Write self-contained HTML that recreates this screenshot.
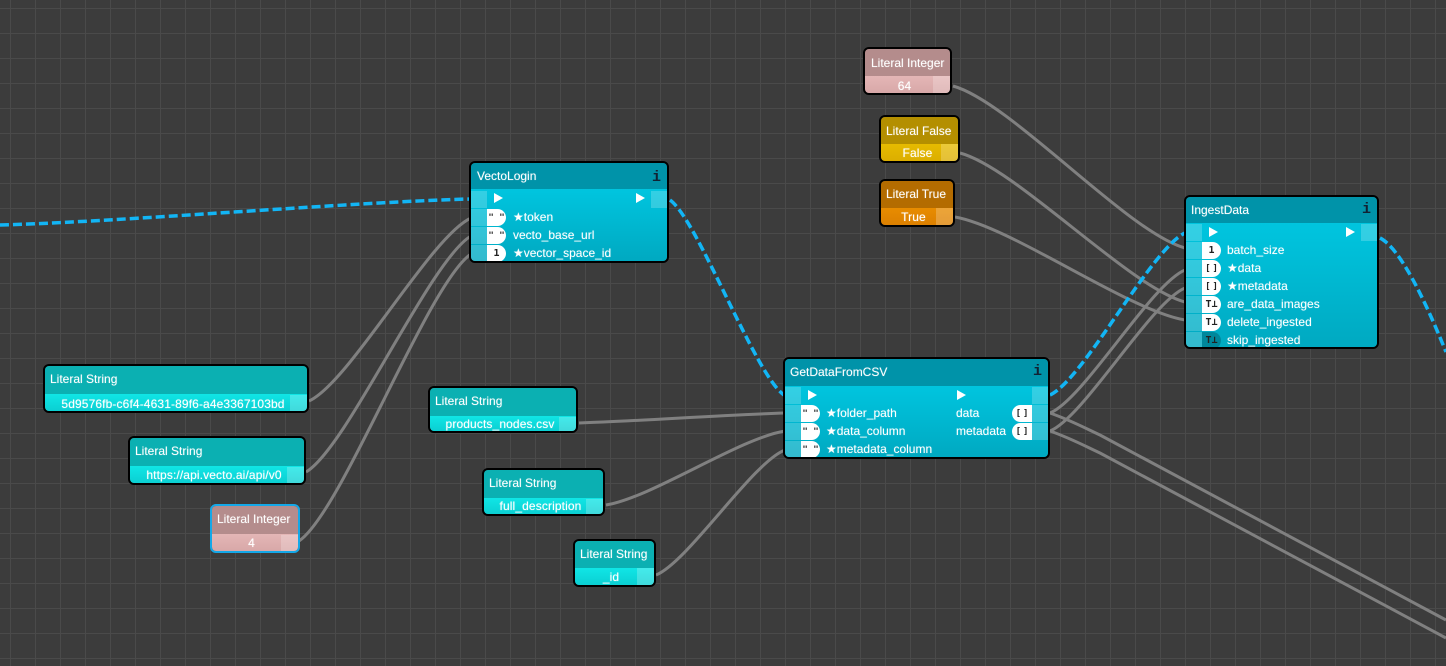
<!DOCTYPE html>
<html><head><meta charset="utf-8"><style>
html,body{margin:0;padding:0;width:1446px;height:666px;overflow:hidden}
body{position:relative;background-color:#3c3c3c;background-image:linear-gradient(#4a4a4a 1px,transparent 1px),linear-gradient(90deg,#4a4a4a 1px,transparent 1px);background-size:25px 25px;background-position:10px 8px;font:12px/18px "Liberation Sans",sans-serif;color:#fff}
svg{position:absolute;left:0;top:0}
.n{position:absolute;box-sizing:border-box;border:2px solid #000;border-radius:6px;overflow:hidden}
.n div{position:absolute}
.h{left:0;top:0;right:0;height:26px;background:#0093a9}
.f{background:linear-gradient(#00c5df,#00a9c1);left:0;right:0;top:26px;bottom:0}
.ti{left:5px;top:4px;white-space:nowrap;text-shadow:0 0 1px rgba(255,255,255,.45)}
.t{white-space:nowrap;text-shadow:0 0 1px rgba(255,255,255,.45)}
.c{width:16px;height:17px;background:rgba(255,255,255,.2)}
.p{width:19px;height:17px;background:#fff;border-radius:0 9px 9px 0;color:#222;font:bold 10px/18px "DejaVu Sans Mono",monospace;text-align:center;white-space:nowrap}
.o{width:20px;height:17px;background:#fff;border-radius:9px 0 0 9px;color:#222;font:bold 10px/18px "DejaVu Sans Mono",monospace;text-align:center;white-space:nowrap}
.q{font-size:9px;line-height:19px}
.b{letter-spacing:2px;text-indent:2px}
.a{width:0;height:0;border-left:9px solid #fff;border-top:5px solid transparent;border-bottom:5px solid transparent}
.i{right:6px;top:4px;font:bold 15px/18px "Liberation Mono",monospace;color:#123}
.lh{left:0;right:0;top:0;height:28px}
.lv{left:0;right:0;top:28px;bottom:0}
.lc{right:0;top:29px;bottom:0;width:17px;background:rgba(255,255,255,.22)}
.lt{top:27px;left:0;text-align:center;padding-left:10px;box-sizing:border-box;white-space:nowrap;letter-spacing:.12px;text-shadow:0 0 1px rgba(255,255,255,.6)}
.s .lh{background:#0bb0b2}.s .lv{background:linear-gradient(#10e6e6,#0bcfd2)}
.g .lh{background:#b48c8c}.g .lv{background:linear-gradient(#e4b6b6,#d8a8a8)}
.y .lh{background:#b48f00}.y .lv{background:linear-gradient(#e6bb00,#dcae00)}
.r .lh{background:#b46c00}.r .lv{background:linear-gradient(#e88c00,#dc8000)}
</style></head><body>
<svg width="1446" height="666" fill="none">
<g stroke="#808080" stroke-width="3">
<path d="M309,401 C349.5,382.7 430.5,236.3 471,218"/>
<path d="M306,472 C347,448 430,260 471,236"/>
<path d="M299,541 C342,512 428,283 471,254"/>
<path d="M579,423 C640,421 720,415 785,413"/>
<path d="M606,505 C651,498 740,438 785,431"/>
<path d="M656,575 C688,562 753,462 785,450"/>
<path d="M953,86 C1011,102 1127,232 1185,248"/>
<path d="M960,153 C1016,168 1129,287 1185,302"/>
<path d="M955,217 C1012,227 1127,310 1185,320"/>
<path d="M1050,413 C1084,399 1151,284 1185,270"/>
<path d="M1050,431 C1084,417 1151,302 1185,288"/>
<path d="M1050,413 C1070,420 1085,428 1100,435 L1446,620"/>
<path d="M1050,431 C1070,438 1085,446 1100,453 L1446,638"/>
</g>
<g stroke="#12b5f5" stroke-width="3.5" stroke-dasharray="9 4">
<path d="M0,225 C117,222 352,202 470,199"/>
<path d="M670,200 C698,220 755,375 784,395"/>
<path d="M1050,395 C1084,379 1151,249 1185,233"/>
<path d="M1380,238 C1400,248 1425,300 1446,352"/>
</g>
</svg>

<div class="n" style="left:469px;top:161px;width:200px;height:102px">
<div class="h"></div><div class="f"></div>
<div class="t ti" style="left:6px">VectoLogin</div><div class="i" style="top:6px">i</div>
<div class="c" style="left:0;top:28px"></div><div class="c" style="left:0;top:46px"></div><div class="c" style="left:0;top:64px"></div><div class="c" style="left:0;top:82px"></div>
<div class="c" style="right:0;top:28px"></div>
<div class="a" style="left:23px;top:30px"></div><div class="a" style="left:165px;top:30px"></div>
<div class="p q" style="left:16px;top:46px">" "</div><div class="p q" style="left:16px;top:64px">" "</div><div class="p" style="left:16px;top:82px">1</div>
<div class="t" style="left:42px;top:45px">★token</div><div class="t" style="left:42px;top:63px">vecto_base_url</div><div class="t" style="left:42px;top:81px">★vector_space_id</div>
</div>

<div class="n" style="left:1184px;top:195px;width:195px;height:154px">
<div class="h"></div><div class="f"></div>
<div class="t ti">IngestData</div><div class="i">i</div>
<div class="c" style="left:0;top:27px"></div><div class="c" style="left:0;top:45px"></div><div class="c" style="left:0;top:63px"></div><div class="c" style="left:0;top:81px"></div><div class="c" style="left:0;top:99px"></div><div class="c" style="left:0;top:117px"></div><div class="c" style="left:0;top:135px"></div>
<div class="c" style="right:0;top:27px"></div>
<div class="a" style="left:23px;top:30px"></div><div class="a" style="left:160px;top:30px"></div>
<div class="p" style="left:16px;top:45px">1</div><div class="p q b" style="left:16px;top:63px">[]</div><div class="p q b" style="left:16px;top:81px">[]</div><div class="p" style="left:16px;top:99px">T⊥</div><div class="p" style="left:16px;top:117px">T⊥</div><div class="p" style="left:16px;top:135px;background:#00879b">T⊥</div>
<div class="t" style="left:41px;top:44px">batch_size</div><div class="t" style="left:41px;top:62px">★data</div><div class="t" style="left:41px;top:80px">★metadata</div><div class="t" style="left:41px;top:98px">are_data_images</div><div class="t" style="left:41px;top:116px">delete_ingested</div><div class="t" style="left:41px;top:134px">skip_ingested</div>
</div>

<div class="n" style="left:783px;top:357px;width:267px;height:102px">
<div class="h" style="height:27px"></div><div class="f" style="top:27px"></div>
<div class="t ti">GetDataFromCSV</div><div class="i">i</div>
<div class="c" style="left:0;top:28px"></div><div class="c" style="left:0;top:46px"></div><div class="c" style="left:0;top:64px"></div><div class="c" style="left:0;top:82px"></div>
<div class="c" style="right:0;top:28px"></div><div class="c" style="right:0;top:46px"></div><div class="c" style="right:0;top:64px"></div>
<div class="a" style="left:23px;top:31px"></div><div class="a" style="left:172px;top:31px"></div>
<div class="p q" style="left:16px;top:46px">" "</div><div class="p q" style="left:16px;top:64px">" "</div><div class="p q" style="left:16px;top:82px">" "</div>
<div class="t" style="left:41px;top:45px">★folder_path</div><div class="t" style="left:41px;top:63px">★data_column</div><div class="t" style="left:41px;top:81px">★metadata_column</div>
<div class="t" style="left:171px;top:45px">data</div><div class="t" style="left:171px;top:63px">metadata</div>
<div class="o q b" style="left:227px;top:46px">[]</div><div class="o q b" style="left:227px;top:64px">[]</div>
</div>

<div class="n s" style="left:43px;top:364px;width:266px;height:49px"><div class="lh"></div><div class="lv"></div><div class="lc"></div><div class="t ti">Literal String</div><div class="lt" style="width:246px;top:29px">5d9576fb-c6f4-4631-89f6-a4e3367103bd</div></div>
<div class="n s" style="left:128px;top:436px;width:178px;height:49px"><div class="lh"></div><div class="lv"></div><div class="lc"></div><div class="t ti">Literal String</div><div class="lt" style="width:158px;top:28px">https://api.vecto.ai/api/v0</div></div>
<div class="n g" style="left:210px;top:504px;width:90px;height:49px;border-color:#14a8e8"><div class="lh"></div><div class="lv"></div><div class="lc"></div><div class="t ti">Literal Integer</div><div class="lt" style="width:69px;top:28px">4</div></div>
<div class="n g" style="left:863px;top:47px;width:89px;height:48px"><div class="lh" style="height:27px"></div><div class="lv" style="top:27px"></div><div class="lc" style="top:27px"></div><div class="t ti" style="left:6px;top:5px">Literal Integer</div><div class="lt" style="width:69px;top:28px">64</div></div>
<div class="n y" style="left:879px;top:115px;width:81px;height:48px"><div class="lh" style="height:27px"></div><div class="lv" style="top:27px"></div><div class="lc" style="top:27px"></div><div class="t ti" style="top:5px">Literal False</div><div class="lt" style="width:61px;top:27px;padding-left:12px">False</div></div>
<div class="n r" style="left:879px;top:179px;width:76px;height:48px"><div class="lh" style="height:27px"></div><div class="lv" style="top:27px"></div><div class="lc" style="top:27px"></div><div class="t ti" style="top:4px">Literal True</div><div class="lt" style="width:55px;top:27px">True</div></div>
<div class="n s" style="left:428px;top:386px;width:150px;height:47px"><div class="lh"></div><div class="lv"></div><div class="lc"></div><div class="t ti">Literal String</div><div class="lt" style="width:130px;top:27px">products_nodes.csv</div></div>
<div class="n s" style="left:482px;top:468px;width:123px;height:48px"><div class="lh"></div><div class="lv"></div><div class="lc"></div><div class="t ti">Literal String</div><div class="lt" style="width:103px">full_description</div></div>
<div class="n s" style="left:573px;top:539px;width:83px;height:48px"><div class="lh" style="height:27px"></div><div class="lv" style="top:27px"></div><div class="lc" style="top:27px"></div><div class="t ti">Literal String</div><div class="lt" style="width:62px;top:27px">_id</div></div>
</body></html>
